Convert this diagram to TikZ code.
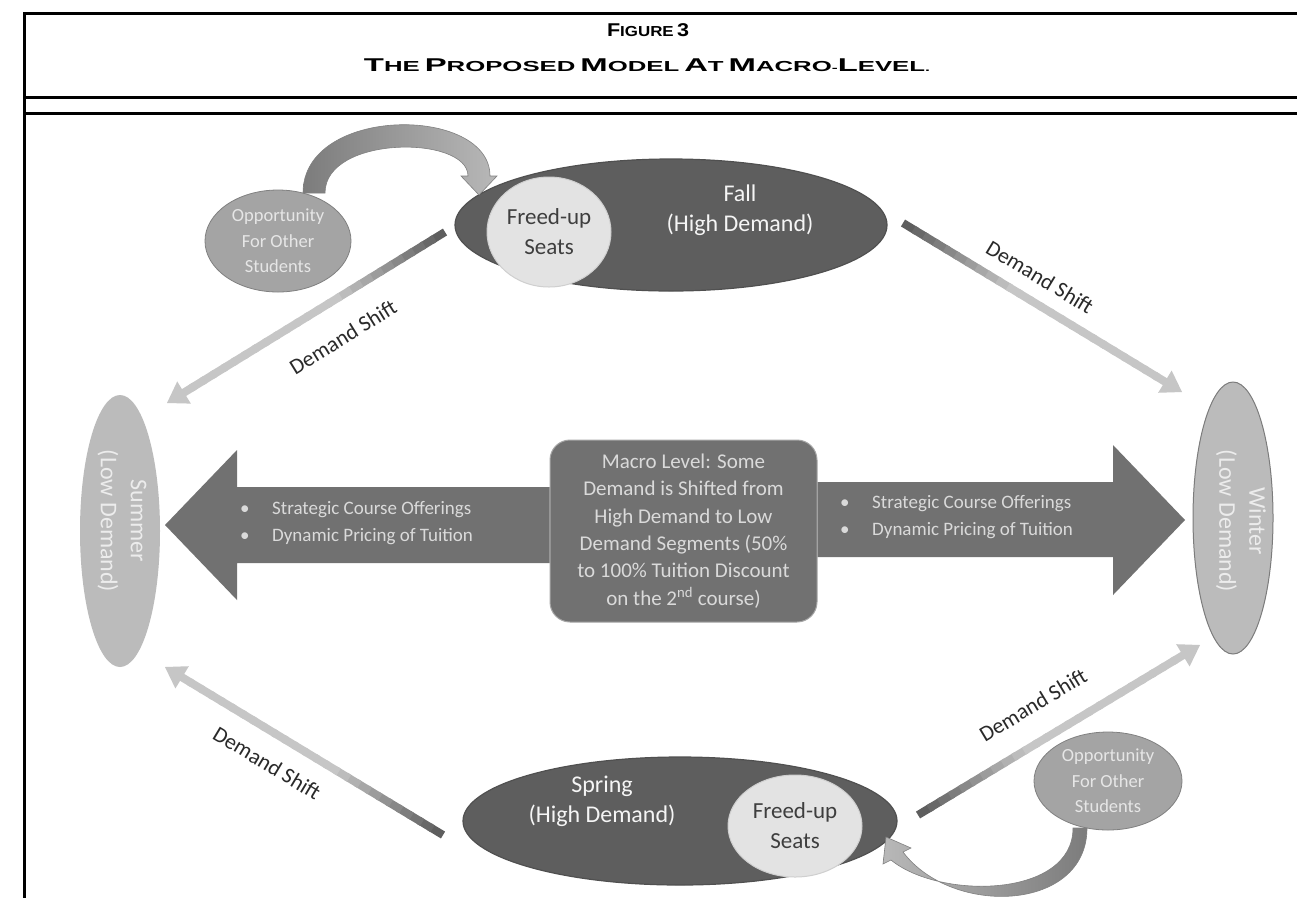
\documentclass[tikz,border=0pt]{standalone}
\usepackage{fontspec}
\setmainfont{Carlito}
\newfontfamily\titlefont{Liberation Sans}
\usetikzlibrary{shapes.geometric,calc}
\definecolor{seasondark}{HTML}{5E5E5E}
\definecolor{seatfill}{HTML}{E3E3E3}
\definecolor{seattext}{HTML}{3E3E3E}
\definecolor{lowfill}{HTML}{BBBBBB}
\definecolor{lowline}{HTML}{7C7C7C}
\definecolor{lowtext}{HTML}{ECECEC}
\definecolor{oppfill}{HTML}{A4A4A4}
\definecolor{oppline}{HTML}{808080}
\definecolor{opptext}{HTML}{E6E6E6}
\definecolor{blockfill}{HTML}{717171}
\definecolor{boxline}{HTML}{A6A6A6}
\definecolor{lighttext}{HTML}{DADADA}
\definecolor{shiftdark}{HTML}{5E5E5E}
\definecolor{shiftlight}{HTML}{C6C6C6}
\definecolor{labeltext}{HTML}{2A2A2A}
\definecolor{curvedark}{HTML}{7C7C7C}
\definecolor{curvelight}{HTML}{B8B8B8}
\newcommand\BigC[1]{{\fontsize{18.5}{20}\selectfont #1}}
\newcommand\SmC[1]{{\fontsize{14.5}{20}\selectfont #1}}
\newcommand\demandarrow[2]{%
  \coordinate (#1-hb) at ($(#2)!20pt!(#1)$);
  \foreach \i in {0,...,24}{%
    \pgfmathsetmacro\mixv{max(0,100-\i*10)}%
    \pgfmathsetmacro\ta{\i/25}%
    \pgfmathsetmacro\tb{(\i+1.3)/25}%
    \draw[line width=8pt, color=shiftdark!\mixv!shiftlight] ($(#1)!\ta!(#1-hb)$) -- ($(#1)!\tb!(#1-hb)$);
  }
  \fill[shiftlight] ($(#1-hb)!13pt!90:(#2)$) -- (#2) -- ($(#1-hb)!13pt!-90:(#2)$) -- cycle;
}
\begin{document}
\begin{tikzpicture}[x=1pt,y=-1pt,
  season/.style={ellipse, fill=seasondark, draw=seasondark!85!black, line width=1.2pt, inner sep=0pt},
  seasontext/.style={text=white!92!gray, align=center, inner sep=0pt, font=\fontsize{24}{30}\selectfont},
  seat/.style={ellipse, fill=seatfill, draw=seatfill!80!gray, line width=1pt, text=seattext, align=center, inner sep=0pt, font=\fontsize{23}{30}\selectfont},
  low/.style={ellipse, fill=lowfill, inner sep=0pt},
  lowtxt/.style={rotate=-90, text=lowtext, align=center, inner sep=0pt, font=\fontsize{24}{30}\selectfont},
  opp/.style={ellipse, fill=oppfill, draw=oppline, line width=0.8pt, text=opptext, align=center, inner sep=0pt, font=\fontsize{18.5}{25.5}\selectfont},
  bullets/.style={text=lighttext, align=left, inner sep=0pt, anchor=west, font=\fontsize{19}{27}\selectfont},
  shiftlabel/.style={text=labeltext, inner sep=0pt, font=\fontsize{22}{24}\selectfont},
  frame/.style={line width=3pt, black}
]
\useasboundingbox (0,0) rectangle (1297,898);
\fill[white] (0,0) rectangle (1297,898);
% frame
\draw[frame] (1297,13) -- (24,13) -- (24,898);
\draw[frame] (24,97) -- (1297,97);
\draw[frame] (24,113) -- (1297,113);
% title
\node[font=\titlefont\bfseries, inner sep=0pt] (figno) at (648,30)
  {\resizebox{82pt}{\height}{\BigC{F}\SmC{IGURE} \BigC{3}}};
\node[font=\titlefont\bfseries, inner sep=0pt] (figtitle) at (647,65)
  {\resizebox{566pt}{\height}{\BigC{T}\SmC{HE} \BigC{P}\SmC{ROPOSED} \BigC{M}\SmC{ODEL} \BigC{A}\SmC{T} \BigC{M}\SmC{ACRO}-\BigC{L}\SmC{EVEL}.}};

% central box and block arrows
\node[draw=boxline, line width=1pt, fill=blockfill, rounded corners=20pt, minimum width=267pt, minimum height=182pt,
      text=lighttext, align=center, inner sep=0pt, font=\fontsize{21}{27.4}\selectfont] (macro) at (683.5,531)
  {Macro Level: Some\\Demand is Shifted from\\High Demand to Low\\Demand Segments (50\%\\to 100\% Tuition Discount\\on the 2\textsuperscript{nd} course)};
\fill[blockfill] (macro.west |- 0,487) -- (237,487) -- (237,450) -- (165,525) -- (237,600) -- (237,563) -- (macro.west |- 0,563) -- cycle;
\fill[blockfill] (macro.east |- 0,482) -- (1113,482) -- (1113,445) -- (1185,520) -- (1113,595) -- (1113,557) -- (macro.east |- 0,557) -- cycle;
\node[bullets] (lbul) at (240,523.5) {\makebox[32pt][l]{\textbullet}Strategic Course Offerings\\\makebox[32pt][l]{\textbullet}Dynamic Pricing of Tuition};
\node[bullets] (rbul) at (840,517.5) {\makebox[32pt][l]{\textbullet}Strategic Course Offerings\\\makebox[32pt][l]{\textbullet}Dynamic Pricing of Tuition};

% seasons
\node[season, minimum width=432pt, minimum height=132pt] (fall) at (671,225) {};
\node[seat, minimum width=124pt, minimum height=110pt] (fallseat) at (549,232) {Freed-up\\Seats};
\node[seasontext] (falltxt) at (740,210) {Fall\\(High Demand)};

\node[season, minimum width=434pt, minimum height=128pt] (spring) at (680,821) {};
\node[seat, minimum width=134pt, minimum height=102pt] (springseat) at (795,826) {Freed-up\\Seats};
\node[seasontext] (springtxt) at (602,801) {Spring\\(High Demand)};

\node[low, minimum width=80pt, minimum height=272pt] (summer) at (120,531) {};
\node[lowtxt] (summertxt) at (122,521) {Summer\\(Low Demand)};
\node[low, draw=lowline, line width=1pt, minimum width=80pt, minimum height=272pt] (winter) at (1233,518) {};
\node[lowtxt] (wintertxt) at (1241,521) {Winter\\(Low Demand)};

% opportunity ellipses
\node[opp, minimum width=146pt, minimum height=102pt] (opptop) at (278,241) {Opportunity\\For Other\\Students};
\node[opp, minimum width=148pt, minimum height=98pt] (oppbot) at (1108,781) {Opportunity\\For Other\\Students};

% curved arrows
\shade[left color=curvedark, right color=curvelight, draw=gray, line width=0.6pt]
  (303,193) .. controls (303,105) and (490,105) .. (490,176)
  -- (497,176) -- (479,195) -- (461,176) -- (468,176)
  .. controls (468,135) and (325,135) .. (325,193) -- cycle;
\shade[left color=curvelight, right color=curvedark, draw=gray, line width=0.6pt]
  (1087,828) .. controls (1087,912) and (952,917) .. (903,852)
  -- (911,848) -- (886,837) -- (883,864) -- (891,860)
  .. controls (940,900) and (1073,898) .. (1073,828) -- cycle;

% demand shift arrows
\coordinate (tls) at (445,232); \coordinate (tlt) at (167,403);
\coordinate (trs) at (903,223); \coordinate (trt) at (1182,392);
\coordinate (bls) at (443,835); \coordinate (blt) at (165,667);
\coordinate (brs) at (918,815); \coordinate (brt) at (1200,645);
\demandarrow{tls}{tlt}
\demandarrow{trs}{trt}
\demandarrow{bls}{blt}
\demandarrow{brs}{brt}
\node[shiftlabel, rotate=31.6] (tllab) at (343,337) {Demand Shift};
\node[shiftlabel, rotate=-31.2] (trlab) at (1040,277) {Demand Shift};
\node[shiftlabel, rotate=-31] (bllab) at (267,763) {Demand Shift};
\node[shiftlabel, rotate=31] (brlab) at (1033,705) {Demand Shift};
\end{tikzpicture}
\end{document}
